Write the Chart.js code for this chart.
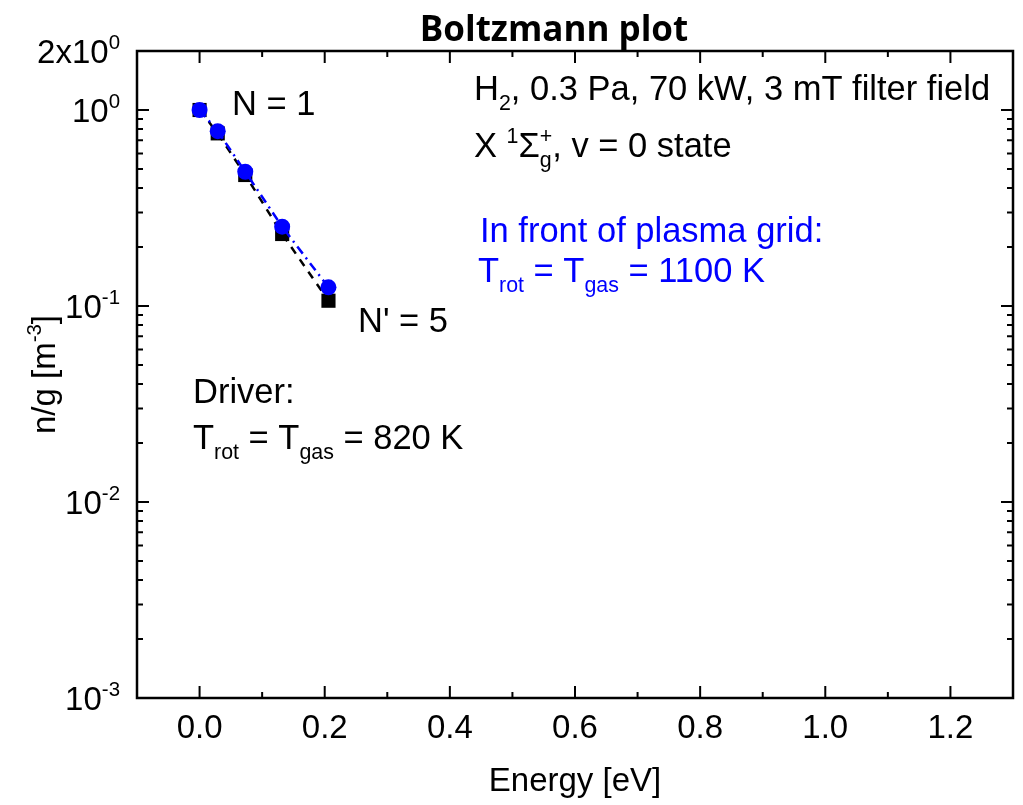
<!DOCTYPE html>
<html>
<head>
<meta charset="utf-8">
<script src="https://cdn.jsdelivr.net/npm/chart.js@4/dist/chart.umd.min.js"></script>
<style>
  body { margin: 0; background: #fff; }
  #wrap { width: 1023px; height: 805px; }
</style>
</head>
<body>
<div id="wrap"><canvas id="boltz"></canvas></div>
<script>
// data
var energy = [0, 0.029, 0.073, 0.132, 0.206];
var driver = [1.0, 0.76, 0.466, 0.233, 0.1064];
var plasmaGrid = [1.0, 0.78, 0.484, 0.254, 0.1245];
var xTicks = [0.0, 0.2, 0.4, 0.6, 0.8, 1.0, 1.2];
var xMinor = [0.1, 0.3, 0.5, 0.7, 0.9, 1.1];
var yDecades = [0.001, 0.01, 0.1, 1];
var yExp = ["-3", "-2", "-1", "0"];

var FONT = "'Liberation Sans', Arial, sans-serif";
var FS = 33;   // axis text
var AS = 34.5; // annotation text

function pts(xs, ys) {
  return xs.map(function(x, i) { return {x: x, y: ys[i]}; });
}

// draw text made of normal / superscript / subscript pieces
function rich(ctx, x, y, parts, size, color, align) {
  var small = size * 0.62;
  function w(p) {
    if (p[1] === 's') {
      ctx.font = small + "px " + FONT;
      return Math.max(ctx.measureText(p[0]).width, ctx.measureText(p[2]).width);
    }
    ctx.font = (p[1] ? small : size) + "px " + FONT;
    return ctx.measureText(p[0]).width;
  }
  var total = 0;
  parts.forEach(function(p) { total += w(p); });
  var cx = x;
  if (align === 'right') cx = x - total;
  if (align === 'center') cx = x - total / 2;
  ctx.fillStyle = color;
  ctx.textAlign = 'left';
  ctx.textBaseline = 'alphabetic';
  parts.forEach(function(p) {
    var pw = w(p);
    if (p[1] === 's') {
      ctx.font = small + "px " + FONT;
      ctx.fillText(p[0], cx, y + size * 0.28);
      ctx.fillText(p[2], cx, y - size * 0.42);
    } else if (p[1] === 1) {
      ctx.font = small + "px " + FONT;
      ctx.fillText(p[0], cx, y - size * 0.42);
    } else if (p[1] === -1) {
      ctx.font = small + "px " + FONT;
      ctx.fillText(p[0], cx, y + size * 0.28);
    } else {
      ctx.font = size + "px " + FONT;
      ctx.fillText(p[0], cx, y);
    }
    cx += pw;
  });
}

var framePlugin = {
  id: 'frame',
  afterDraw: function(chart) {
    var ctx = chart.ctx, a = chart.chartArea;
    var xs = chart.scales.x, ys = chart.scales.y;
    ctx.save();
    ctx.strokeStyle = '#000';
    ctx.lineWidth = 2.5;
    ctx.strokeRect(a.left, a.top, a.right - a.left, a.bottom - a.top);
    ctx.lineWidth = 2;
    ctx.beginPath();
    xTicks.forEach(function(v) {
      var px = xs.getPixelForValue(v);
      ctx.moveTo(px, a.bottom); ctx.lineTo(px, a.bottom - 12);
      ctx.moveTo(px, a.top); ctx.lineTo(px, a.top + 12);
    });
    xMinor.forEach(function(v) {
      var px = xs.getPixelForValue(v);
      ctx.moveTo(px, a.bottom); ctx.lineTo(px, a.bottom - 6);
      ctx.moveTo(px, a.top); ctx.lineTo(px, a.top + 6);
    });
    yDecades.forEach(function(d) {
      var py = ys.getPixelForValue(d);
      ctx.moveTo(a.left, py); ctx.lineTo(a.left + 12, py);
      ctx.moveTo(a.right, py); ctx.lineTo(a.right - 12, py);
      for (var k = 2; k <= 9; k++) {
        var v = d * k;
        if (v > ys.max) break;
        var q = ys.getPixelForValue(v);
        ctx.moveTo(a.left, q); ctx.lineTo(a.left + 6, q);
        ctx.moveTo(a.right, q); ctx.lineTo(a.right - 6, q);
      }
    });
    ctx.stroke();

    // x tick labels
    ctx.fillStyle = '#000';
    ctx.font = FS + "px " + FONT;
    ctx.textAlign = 'center';
    ctx.textBaseline = 'alphabetic';
    xTicks.forEach(function(v) {
      ctx.fillText(v.toFixed(1), xs.getPixelForValue(v), a.bottom + 40);
    });
    // y tick labels
    yDecades.forEach(function(d, i) {
      rich(ctx, a.left - 17, ys.getPixelForValue(d) + 12, [["10", 0], [yExp[i], 1]], FS, '#000', 'right');
    });
    rich(ctx, a.left - 17, ys.getPixelForValue(2) + 12, [["2x10", 0], ["0", 1]], FS, '#000', 'right');

    // axis titles
    ctx.font = FS + "px " + FONT;
    ctx.textAlign = 'center';
    ctx.fillText("Energy [eV]", (a.left + a.right) / 2, 791);
    ctx.save();
    ctx.translate(55, (a.top + a.bottom) / 2);
    ctx.rotate(-Math.PI / 2);
    rich(ctx, 0, 0, [["n/g [m", 0], ["-3", 1], ["]", 0]], FS, '#000', 'center');
    ctx.restore();

    // title
    ctx.fillStyle = '#000';
    ctx.font = "bold 35px 'Open Sans', sans-serif";
    ctx.textAlign = 'center';
    ctx.fillText("Boltzmann plot", 554, 41);

    // annotations
    rich(ctx, 232, 115, [["N = 1", 0]], AS, '#000');
    rich(ctx, 358, 332, [["N' = 5", 0]], AS, '#000');
    rich(ctx, 474, 100, [["H", 0], ["2", -1], [", 0.3 Pa, 70 kW, 3 mT filter field", 0]], AS, '#000');
    rich(ctx, 474, 157, [["X ", 0], ["1", 1], ["\u03A3", 0], ["g", 's', "+"], [", v = 0 state", 0]], AS, '#000');
    rich(ctx, 480, 242, [["In front of plasma grid:", 0]], AS, '#0000ff');
    rich(ctx, 478, 282, [["T", 0], ["rot", -1], [" = T", 0], ["gas", -1], [" = 1100 K", 0]], AS, '#0000ff');
    rich(ctx, 193, 403, [["Driver:", 0]], AS, '#000');
    rich(ctx, 193, 449, [["T", 0], ["rot", -1], [" = T", 0], ["gas", -1], [" = 820 K", 0]], AS, '#000');
    ctx.restore();
  }
};

new Chart("boltz", {
  type: 'scatter',
  data: {
    datasets: [
      {
        label: "In front of plasma grid",
        data: pts(energy, plasmaGrid),
        showLine: true,
        borderColor: "#0000ff",
        borderWidth: 2.5,
        borderDash: [9, 5, 2, 5],
        pointStyle: 'circle',
        pointRadius: 8,
        pointBackgroundColor: "#0000ff",
        pointBorderColor: "#0000ff",
        pointBorderWidth: 0
      },
      {
        label: "Driver",
        data: pts(energy, driver),
        showLine: true,
        borderColor: "#000",
        borderWidth: 2.5,
        borderDash: [8, 7],
        pointStyle: 'rect',
        pointRadius: 10,
        pointBackgroundColor: "#000",
        pointBorderColor: "#000",
        pointBorderWidth: 0
      }
    ]
  },
  options: {
    responsive: true,
    maintainAspectRatio: false,
    animation: false,
    layout: { padding: { left: 0, right: 10, top: 51, bottom: 0 } },
    plugins: { legend: { display: false }, tooltip: { enabled: false } },
    scales: {
      x: {
        type: 'linear', min: -0.1, max: 1.3,
        ticks: { display: false },
        grid: { display: false },
        border: { display: false },
        afterFit: function(s) { s.height = 107; }
      },
      y: {
        type: 'logarithmic', min: 0.001, max: 2,
        ticks: { display: false },
        grid: { display: false },
        border: { display: false },
        afterFit: function(s) { s.width = 137; }
      }
    }
  },
  plugins: [framePlugin]
});
</script>
</body>
</html>
